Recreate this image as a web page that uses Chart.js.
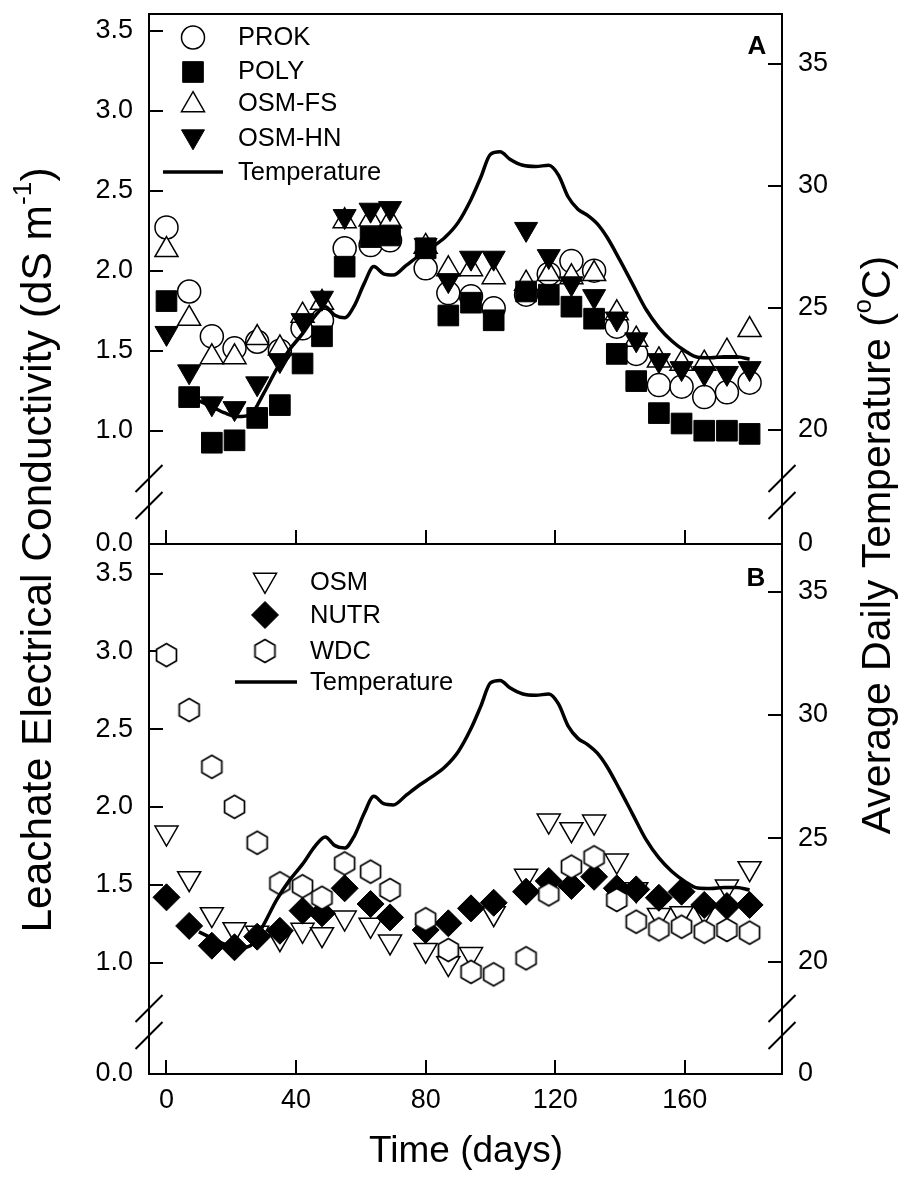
<!DOCTYPE html>
<html><head><meta charset="utf-8">
<script src="https://cdn.jsdelivr.net/npm/chart.js"></script>
<style>
html,body{margin:0;padding:0;background:#fff;}
#wrap{position:relative;width:907px;height:1179px;overflow:hidden;background:#fff;}
canvas{position:absolute;left:0;top:0;}
</style></head><body>
<div id="wrap"><canvas id="cA" width="907" height="1179"></canvas><canvas id="cB" width="907" height="1179"></canvas></div>
<script>
// ---------- data ----------
const sampleDays = [0,7,14,21,28,35,42,48,55,63,69,80,87,94,101,111,118,125,132,139,145,152,159,166,173,180];
// Panel A (dS m-1)
const prokA  = [2.27,1.87,1.59,1.515,1.556,1.50,1.64,1.69,2.14,2.16,2.19,2.015,1.86,1.84,1.765,1.85,1.98,2.06,2.00,1.65,1.48,1.285,1.275,1.21,1.24,1.30];
const polyA  = [1.81,1.21,0.925,0.94,1.08,1.16,1.42,1.59,2.025,2.21,2.22,2.14,1.72,1.80,1.69,1.87,1.85,1.775,1.70,1.48,1.31,1.11,1.045,1.00,1.00,0.98];
const osmFsA = [2.13,1.70,1.46,1.46,1.58,1.515,1.72,1.80,2.31,2.32,2.31,2.15,2.01,2.01,1.96,1.92,1.98,1.96,1.98,1.735,1.57,1.44,1.42,1.42,1.495,1.63];
const osmHnA = [1.61,1.37,1.17,1.14,1.295,1.44,1.69,1.83,2.34,2.38,2.39,2.16,1.94,2.08,2.08,2.26,2.09,1.92,1.84,1.70,1.57,1.44,1.39,1.36,1.36,1.39];
// Panel B (dS m-1)
const osmB  = [1.834,1.541,1.31,1.213,1.19,1.155,1.209,1.181,1.288,1.241,1.134,1.08,0.995,1.053,1.316,1.556,1.911,1.856,1.905,1.654,1.47,1.305,1.316,1.33,1.487,1.605];
const nutrB = [1.419,1.235,1.108,1.098,1.166,1.204,1.333,1.316,1.477,1.376,1.29,1.209,1.252,1.348,1.384,1.455,1.524,1.492,1.551,1.477,1.47,1.416,1.455,1.37,1.363,1.37];
const wdcB  = [2.976,2.623,2.258,2.001,1.77,1.509,1.49,1.416,1.637,1.584,1.466,1.278,1.08,0.94,0.924,1.027,1.438,1.616,1.676,1.402,1.262,1.213,1.23,1.198,1.209,1.192];
// Average daily temperature (°C)
const tempDays = [10,14,18,22,26,30,34,38,42,46,49,52,55,58,61,64,67,70,74,78,82,86,90,94,97,100,103,106,110,114,118,121,124,127,130,133,136,140,144,148,152,156,160,164,168,172,176,180];
const tempVals = [21.2,20.95,20.7,20.55,20.65,21.5,22.5,23.3,23.95,24.7,25.05,24.7,24.6,25.1,26.0,26.7,26.4,26.35,26.75,27.15,27.5,27.9,28.5,29.45,30.35,31.3,31.4,31.1,30.85,30.8,30.85,30.45,29.55,29.05,28.8,28.45,27.9,26.95,25.95,24.95,24.2,23.65,23.25,22.98,22.96,23.0,23.0,22.9];
// ticks
const ecTicks = [0, 1.0, 1.5, 2.0, 2.5, 3.0, 3.5];
const tempTicks = [0, 20, 25, 30, 35];
const dayTicks = [0, 40, 80, 120, 160];

// ---------- broken linear scale ----------
class BrokenScale extends Chart.LinearScale {
  getPixelForValue(value) {
    if (value === null || value === undefined || isNaN(value)) return NaN;
    const b = this.options.breakAt, f = this.options.breakFrac;
    let d;
    if (value >= b) d = f + (value - b) / (this.max - b) * (1 - f);
    else d = (value - this.min) / (b - this.min) * f;
    return this.getPixelForDecimal(d);
  }
  getValueForPixel(pixel) {
    const d = this.getDecimalForPixel(pixel);
    const b = this.options.breakAt, f = this.options.breakFrac;
    if (d >= f) return b + (d - f) / (1 - f) * (this.max - b);
    return this.min + d / f * (b - this.min);
  }
}
BrokenScale.id = 'broken';
BrokenScale.defaults = {};
Chart.register(BrokenScale);

const FAM = '"Liberation Sans", Arial, Helvetica, sans-serif';
const tickFont = {family: FAM, size: 27};
const BLACK = '#000';

function pts(xs, ys) { return xs.map((x, i) => ({x: x, y: ys[i]})); }

function makeHex(R, lw) {
  const w = Math.round(Math.sqrt(3) * R + lw * 2 + 2), h = Math.round(2 * R + lw * 2 + 2);
  const c = document.createElement('canvas'); c.width = w; c.height = h;
  const g = c.getContext('2d'); g.beginPath();
  for (let k = 0; k < 6; k++) {
    const a = -Math.PI / 2 + k * Math.PI / 3;
    const px = w / 2 + R * Math.cos(a), py = h / 2 + R * Math.sin(a);
    if (k) g.lineTo(px, py); else g.moveTo(px, py);
  }
  g.closePath(); g.fillStyle = '#fff'; g.fill(); g.lineWidth = lw; g.strokeStyle = BLACK; g.stroke();
  return c;
}
const hexImg = makeHex(11.5, 1.7);

function drawSym(ctx, s, x, y) {
  ctx.save();
  if (s.img) { ctx.drawImage(s.img, x - s.img.width / 2, y - s.img.height / 2); ctx.restore(); return; }
  ctx.fillStyle = s.fill; ctx.strokeStyle = BLACK; ctx.lineWidth = s.lw;
  Chart.helpers.drawPoint(ctx, {pointStyle: s.style, radius: s.r, rotation: s.rot || 0, borderWidth: s.lw}, x, y);
  ctx.restore();
}

function legendPlugin(entries, symX, textX, lineX1, lineX2) {
  return {
    id: 'customLegend',
    afterDraw(chart) {
      const ctx = chart.ctx;
      ctx.save();
      ctx.font = '25.5px ' + FAM; ctx.fillStyle = BLACK; ctx.textBaseline = 'middle'; ctx.textAlign = 'left';
      entries.forEach(e => {
        if (e.line) {
          ctx.save(); ctx.strokeStyle = BLACK; ctx.lineWidth = 3.5;
          ctx.beginPath(); ctx.moveTo(lineX1, e.sy); ctx.lineTo(lineX2, e.sy); ctx.stroke(); ctx.restore();
        } else {
          drawSym(ctx, e.sym, symX, e.sy);
        }
        ctx.fillText(e.label, textX, e.ty);
      });
      ctx.restore();
    }
  };
}

function framePlugin(letter, lx, ly, topLine) {
  return {
    id: 'frameDeco',
    afterDraw(chart) {
      const ctx = chart.ctx;
      const yl = chart.scales.yL, yr = chart.scales.yR;
      const ca = chart.chartArea;
      ctx.save();
      ctx.strokeStyle = BLACK; ctx.lineWidth = 2;
      if (topLine) { ctx.beginPath(); ctx.moveTo(ca.left - 1, ca.top); ctx.lineTo(ca.right + 1, ca.top); ctx.stroke(); }
      [[yl, ca.left], [yr, ca.right]].forEach(([sc, ax]) => {
        const k = sc.getPixelForValue(sc.options.breakAt);
        [k - 13.5, k + 13.5].forEach(cy => {
          ctx.beginPath(); ctx.moveTo(ax + 13.5, cy - 13.5); ctx.lineTo(ax - 13.5, cy + 13.5); ctx.stroke();
        });
      });
      ctx.font = 'bold 26px ' + FAM; ctx.fillStyle = BLACK; ctx.textAlign = 'center'; ctx.textBaseline = 'middle';
      ctx.fillText(letter, lx, ly);
      ctx.restore();
    }
  };
}

function titlePlugin() {
  return {
    id: 'titles',
    afterDraw(chart) {
      const ctx = chart.ctx;
      ctx.save(); ctx.fillStyle = BLACK; ctx.textBaseline = 'middle';
      function rich(parts, cx, cy, rot, size) {
        ctx.save(); ctx.translate(cx, cy); ctx.rotate(rot);
        let total = 0;
        parts.forEach(p => { ctx.font = (p.sup ? size * 0.62 : size) + 'px ' + FAM; p.w = ctx.measureText(p.t).width; total += p.w; });
        let x = -total / 2; ctx.textAlign = 'left';
        parts.forEach(p => { ctx.font = (p.sup ? size * 0.62 : size) + 'px ' + FAM; ctx.fillText(p.t, x, p.sup ? -size * 0.36 : 0); x += p.w; });
        ctx.restore();
      }
      rich([{t: 'Leachate Electrical Conductivity (dS m'}, {t: '-1', sup: true}, {t: ')'}], 39, 550, -Math.PI / 2, 42.5);
      rich([{t: 'Average Daily Temperature ('}, {t: 'o', sup: true}, {t: 'C)'}], 879, 545, -Math.PI / 2, 41);
      rich([{t: 'Time (days)'}], 466, 1152, 0, 37);
      ctx.restore();
    }
  };
}

function noPad(sc) { sc.paddingTop = 0; sc.paddingBottom = 0; sc.paddingLeft = 0; sc.paddingRight = 0; }

function scalesFor(o) {
  const grid = {drawOnChartArea: false, drawTicks: true, tickLength: -14, color: BLACK, lineWidth: 2};
  const border = {display: true, color: BLACK, width: 2};
  return {
    x: {type: 'linear', position: 'bottom', min: -5.4, max: 190, bounds: 'data',
      afterBuildTicks: sc => { sc.ticks = dayTicks.map(v => ({value: v})); },
      afterFit: sc => { sc.height = o.bottomH; noPad(sc); },
      ticks: {display: o.xLabels, font: tickFont, color: BLACK, padding: 24, maxRotation: 0, autoSkip: false, callback: v => String(v)},
      grid: grid, border: border},
    yL: {type: 'broken', position: 'left', min: 0, max: o.lMax, breakAt: o.lBreak, breakFrac: 52 / 530, bounds: 'data',
      afterBuildTicks: sc => { sc.ticks = ecTicks.map(v => ({value: v})); },
      afterFit: sc => { sc.width = 149; noPad(sc); },
      ticks: {font: tickFont, color: BLACK, padding: 30, autoSkip: false, callback: v => Number(v).toFixed(1)},
      grid: grid, border: border},
    yR: {type: 'broken', position: 'right', min: 0, max: o.rMax, breakAt: o.rBreak, breakFrac: 52 / 530, bounds: 'data',
      afterBuildTicks: sc => { sc.ticks = tempTicks.map(v => ({value: v})); },
      afterFit: sc => { sc.width = 125; noPad(sc); },
      ticks: {font: tickFont, color: BLACK, padding: 30, autoSkip: false, callback: v => String(Math.round(v))},
      grid: grid, border: border}
  };
}

function tempDataset() {
  return {label: 'Temperature', yAxisID: 'yR', xAxisID: 'x', data: pts(tempDays, tempVals), showLine: true,
    borderColor: BLACK, borderWidth: 3.5, pointRadius: 0, cubicInterpolationMode: 'monotone', fill: false, order: 0};
}
function markerDataset(label, ys, style, r, rot, fill, lw, order) {
  return {label: label, yAxisID: 'yL', xAxisID: 'x', data: pts(sampleDays, ys), showLine: false,
    pointStyle: style, pointRadius: r, pointRotation: rot, pointBackgroundColor: fill, pointBorderColor: BLACK,
    pointBorderWidth: lw, backgroundColor: fill, borderColor: BLACK, order: order};
}

const common = {responsive: false, maintainAspectRatio: false, animation: false, events: [],
  plugins: {legend: {display: false}, tooltip: {enabled: false}}};

// ---------- Panel A ----------
const symA = {
  prok: {style: 'circle', r: 11.5, fill: '#fff', lw: 1.5},
  poly: {style: 'rect', r: 14.6, fill: BLACK, lw: 1},
  fs: {style: 'triangle', r: 13.3, fill: '#fff', lw: 1.5},
  hn: {style: 'triangle', r: 13.3, rot: 180, fill: BLACK, lw: 1}
};
new Chart(document.getElementById('cA'), {
  type: 'scatter',
  data: {datasets: [
    tempDataset(),
    markerDataset('OSM-HN', osmHnA, 'triangle', 13.3, 180, BLACK, 1, 1),
    markerDataset('POLY', polyA, 'rect', 14.6, 0, BLACK, 1, 2),
    markerDataset('OSM-FS', osmFsA, 'triangle', 13.3, 0, '#fff', 1.5, 3),
    markerDataset('PROK', prokA, 'circle', 11.5, 0, '#fff', 1.5, 4)
  ]},
  options: Object.assign({}, common, {
    layout: {padding: {top: 14, bottom: 0, left: 0, right: 0}, autoPadding: false},
    scales: scalesFor({bottomH: 1179 - 544, xLabels: false, lMax: 3.604, lBreak: 0.617, rMax: 37.05, rBreak: 17.46})
  }),
  plugins: [
    legendPlugin([
      {label: 'PROK', sym: symA.prok, sy: 37.5, ty: 37.5},
      {label: 'POLY', sym: symA.poly, sy: 72, ty: 72},
      {label: 'OSM-FS', sym: symA.fs, sy: 105, ty: 103.5},
      {label: 'OSM-HN', sym: symA.hn, sy: 136.5, ty: 138.5},
      {label: 'Temperature', line: true, sy: 172, ty: 172.5}
    ], 193, 238, 163, 223),
    framePlugin('A', 757, 47, true)
  ]
});

// ---------- Panel B ----------
const symB = {
  osm: {style: 'triangle', r: 13.3, rot: 180, fill: '#fff', lw: 1.5},
  nutr: {style: 'rectRot', r: 13.5, fill: BLACK, lw: 1},
  wdc: {img: hexImg}
};
new Chart(document.getElementById('cB'), {
  type: 'scatter',
  data: {datasets: [
    tempDataset(),
    markerDataset('WDC', wdcB, hexImg, 11.5, 0, '#fff', 1.5, 1),
    markerDataset('NUTR', nutrB, 'rectRot', 13.5, 0, BLACK, 1, 2),
    markerDataset('OSM', osmB, 'triangle', 13.3, 180, '#fff', 1.5, 3)
  ]},
  options: Object.assign({}, common, {
    layout: {padding: {top: 544, bottom: 0, left: 0, right: 0}, autoPadding: false},
    scales: scalesFor({bottomH: 1179 - 1074, xLabels: true, lMax: 3.69, lBreak: 0.6176, rMax: 36.935, rBreak: 17.546})
  }),
  plugins: [
    legendPlugin([
      {label: 'OSM', sym: symB.osm, sy: 580, ty: 583},
      {label: 'NUTR', sym: symB.nutr, sy: 615, ty: 615.5},
      {label: 'WDC', sym: symB.wdc, sy: 651, ty: 651.5},
      {label: 'Temperature', line: true, sy: 682, ty: 683}
    ], 265, 310, 235, 297),
    framePlugin('B', 756, 579, false),
    titlePlugin()
  ]
});
</script>
</body></html>
